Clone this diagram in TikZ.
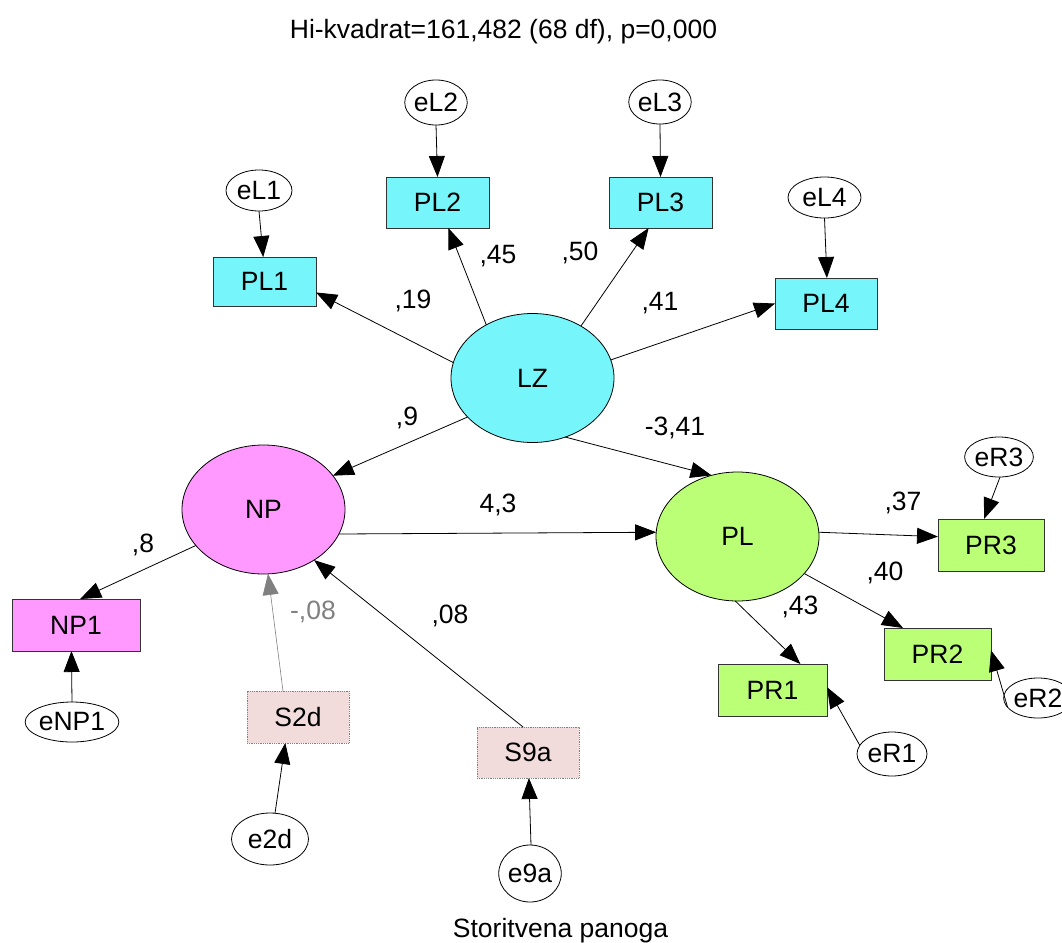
\documentclass[tikz,border=0pt]{standalone}
\usepackage{fontspec}
\setmainfont{Liberation Sans}
\usetikzlibrary{shapes.geometric,arrows.meta}

\definecolor{lzcyan}{RGB}{118,246,250}
\definecolor{nppink}{RGB}{255,153,255}
\definecolor{plgreen}{RGB}{187,255,119}
\definecolor{spink}{RGB}{242,220,219}
\definecolor{dimgrey}{RGB}{128,128,128}

\begin{document}
\begin{tikzpicture}[x=1pt,y=-1pt,
  every node/.style={font=\fontsize{26.5}{30}\selectfont, inner sep=0pt, outer sep=0pt},
  latent/.style={ellipse, draw=black, line width=0.8pt, minimum width=163pt, minimum height=129pt},
  obs/.style={rectangle, draw=black!80, line width=0.8pt},
  sbox/.style={rectangle, draw=gray, densely dotted, line width=0.8pt, fill=spink},
  err/.style={ellipse, draw=black, line width=0.8pt, fill=white},
  reg/.style={line width=0.8pt, -{Triangle[length=21pt,width=16pt]}},
  weakreg/.style={draw=dimgrey, line width=0.6pt, -{Triangle[length=21pt,width=16pt,fill=gray]}},
  coef/.style={}
]
\useasboundingbox (0,0) rectangle (1062,942);

% headings
\node[anchor=base] (title) at (503.5,39) {Hi-kvadrat=161,482 (68 df), p=0,000};
\node[anchor=base] (group) at (560.5,937) {Storitvena panoga};

% latent variables
\node[latent, fill=lzcyan] (LZ) at (532.5,378) {LZ};
\node[latent, fill=nppink] (NP) at (263.5,509.5) {NP};
\node[latent, fill=plgreen] (PL) at (737.5,536.5) {PL};

% indicators of LZ
\node[obs, fill=lzcyan, minimum width=103pt, minimum height=49pt] (PL1) at (264.5,281.5) {PL1};
\node[obs, fill=lzcyan, minimum width=103pt, minimum height=51pt] (PL2) at (437.5,202.5) {PL2};
\node[obs, fill=lzcyan, minimum width=103pt, minimum height=51pt] (PL3) at (660.5,202.5) {PL3};
\node[obs, fill=lzcyan, minimum width=102pt, minimum height=51pt] (PL4) at (826,303.5) {PL4};

% indicator of NP and the two covariates
\node[obs, fill=nppink, minimum width=128pt, minimum height=52pt] (NP1) at (76,625) {NP1};
\node[sbox, minimum width=102pt, minimum height=52pt] (S2d) at (298,717) {S2d};
\node[sbox, minimum width=102pt, minimum height=51pt] (S9a) at (528,752.5) {S9a};

% indicators of PL
\node[obs, fill=plgreen, minimum width=109pt, minimum height=52pt] (PR1) at (772.5,690) {PR1};
\node[obs, fill=plgreen, minimum width=107pt, minimum height=52pt] (PR2) at (937.5,654) {PR2};
\node[obs, fill=plgreen, minimum width=106pt, minimum height=52pt] (PR3) at (991,545) {PR3};

% error terms
\node[err, minimum width=66pt, minimum height=41pt] (eL1) at (259,190.5) {eL1};
\node[err, minimum width=58pt, minimum height=45pt] (eL2) at (436,102.5) {eL2};
\node[err, minimum width=56pt, minimum height=44pt] (eL3) at (660,102) {eL3};
\node[err, minimum width=73pt, minimum height=41pt] (eL4) at (824.5,197.5) {eL4};
\node[err, minimum width=90pt, minimum height=40pt] (eNP1) at (72,722) {eNP1};
\node[err, minimum width=77pt, minimum height=52pt] (e2d) at (270,839) {e2d};
\node[err, minimum width=61pt, minimum height=57pt] (e9a) at (530,873.5) {e9a};
\node[err, minimum width=62pt, minimum height=40pt] (eR3) at (999,457) {eR3};
\node[err, minimum width=62pt, minimum height=40pt] (eR2) at (1038,698) {eR2};
\node[err, minimum width=70pt, minimum height=44pt] (eR1) at (892,754) {eR1};

% loadings of LZ
\draw[reg] (LZ.169.6) -- (PL1.-12.6);
\draw[reg] (LZ.131.9) -- (PL2.-67.6);
\draw[reg] (LZ.47) -- (PL3.-115.3);
\draw[reg] (LZ.13.6) -- (PL4.180);

% structural paths
\draw[reg] (LZ.-149) -- (NP.26.4);
\draw[reg] (LZ.-61.2) -- (PL.113.9);
\draw[reg] (NP.-18.2) -- (PL.177.5);
\draw[reg] (NP.-152.6) -- (NP1.81);
\draw[weakreg] (S2d.120) -- (NP.-86);
\draw[reg] (S9a.101) -- (NP.-45.5);

% loadings of PL
\draw[reg] (PL.3.9) -- (PR3.171.4);
\draw[reg] (PL.-29) -- (PR2.143);
\draw[reg] (PL.-92) -- (PR1.43.4);

% error paths
\draw[reg] (eL1.-90) -- (PL1.93.5);
\draw[reg] (eL2.-90) -- (PL2.90);
\draw[reg] (eL3.-90) -- (PL3.90);
\draw[reg] (eL4.-90) -- (PL4.88);
\draw[reg] (eNP1.90) -- (NP1.-100);
\draw[reg] (e2d.79) -- (S2d.-116.6);
\draw[reg] (e9a.88) -- (S9a.-88);
\draw[reg] (eR3.-87) -- (PR3.105);
\draw[reg] (eR2.-163) -- (PR2.4.3);
\draw[reg] (eR1.165) -- (PR1.3);

% coefficients
\node[coef] (c19) at (413,301) {,19};
\node[coef] (c45) at (498,256) {,45};
\node[coef] (c50) at (580,253) {,50};
\node[coef] (c41) at (660,303) {,41};
\node[coef] (c9) at (407,418) {,9};
\node[coef] (c341) at (675,428) {-3,41};
\node[coef] (c43n) at (498,505) {4,3};
\node[coef] (c8) at (143,545) {,8};
\node[coef, text=dimgrey] (cm08) at (313,612) {-,08};
\node[coef] (c08) at (450,616) {,08};
\node[coef] (c37) at (903,503) {,37};
\node[coef] (c40) at (885,573) {,40};
\node[coef] (c43) at (800,607) {,43};
\end{tikzpicture}
\end{document}
